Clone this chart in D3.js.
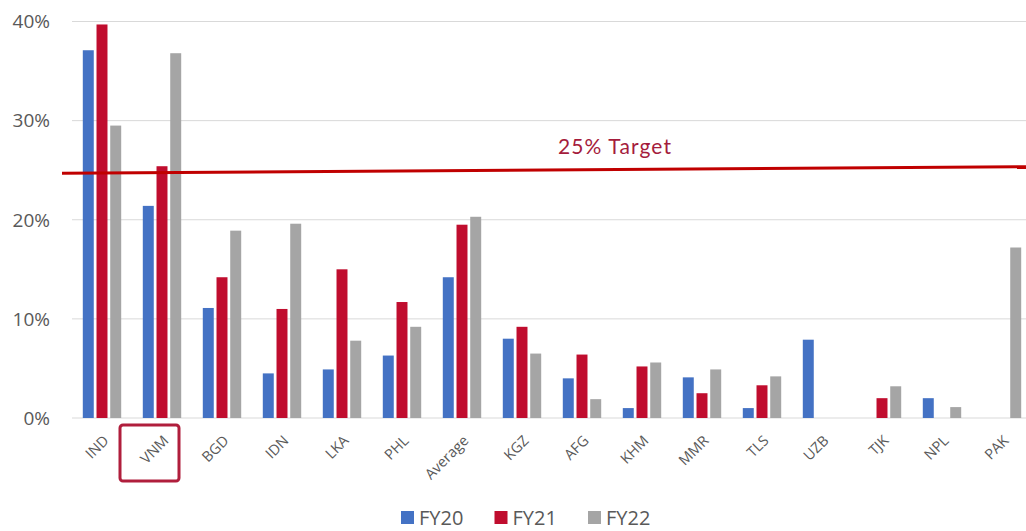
<!DOCTYPE html>
<html>
<head>
<meta charset="utf-8">
<script src="https://cdn.jsdelivr.net/npm/d3@7"></script>
<style>
  body { margin: 0; background: #fff; }
  svg { display: block; font-family: 'Open Sans', sans-serif; }
</style>
</head>
<body>
<svg id="chart"></svg>
<script>
'use strict';

const categories = ['IND', 'VNM', 'BGD', 'IDN', 'LKA', 'PHL', 'Average', 'KGZ', 'AFG', 'KHM', 'MMR', 'TLS', 'UZB', 'TJK', 'NPL', 'PAK'];
const seriesNames = ['FY20', 'FY21', 'FY22'];
const fy20 = [37.1, 21.4, 11.1, 4.5, 4.9, 6.3, 14.2, 8.0, 4.0, 1.0, 4.1, 1.0, 7.9, null, 2.0, null];
const fy21 = [39.7, 25.4, 14.2, 11.0, 15.0, 11.7, 19.5, 9.2, 6.4, 5.2, 2.5, 3.3, null, 2.0, null, null];
const fy22 = [29.5, 36.8, 18.9, 19.6, 7.8, 9.2, 20.3, 6.5, 1.9, 5.6, 4.9, 4.2, null, 3.2, 1.1, 17.2];
const yTicks = [0, 10, 20, 30, 40];
const target = 25;
const targetLabel = '25% Target';
const highlighted = 'VNM';

(function () {
    const width = 1026;
    const height = 531;
    const colors = ['#4472c4', '#c00d2e', '#a5a5a5'];
    const series = [fy20, fy21, fy22];

    const svg = d3.select('#chart')
        .attr('width', width)
        .attr('height', height);

    const x0 = d3.scaleBand()
        .domain(categories)
        .range([72, 1032])
        .paddingInner(0.36)
        .paddingOuter(0.18);
    const x1 = d3.scaleBand()
        .domain(seriesNames)
        .range([0, x0.bandwidth()])
        .paddingInner(0.2);
    const y = d3.scaleLinear()
        .domain([0, 40])
        .range([418, 21.5]);

    // gridlines
    svg.append('g')
        .selectAll('line')
        .data(yTicks)
        .enter().append('line')
        .attr('x1', 72)
        .attr('x2', width)
        .attr('y1', d => y(d))
        .attr('y2', d => y(d))
        .attr('stroke', '#d9d9d9')
        .attr('stroke-width', 1);

    svg.append('g')
        .selectAll('text')
        .data(yTicks)
        .enter().append('text')
        .attr('x', 50)
        .attr('y', d => y(d))
        .attr('dy', '0.36em')
        .attr('text-anchor', 'end')
        .attr('font-size', 19)
        .attr('fill', '#595959')
        .text(d => d + '%');

    // bars
    const groups = svg.append('g')
        .selectAll('g')
        .data(categories)
        .enter().append('g')
        .attr('transform', d => 'translate(' + x0(d) + ',0)');

    groups.selectAll('rect')
        .data((d, i) => seriesNames.map((s, j) => ({ s: s, v: series[j][i], c: colors[j] })))
        .enter().filter(d => d.v != null).append('rect')
        .attr('x', d => x1(d.s))
        .attr('width', x1.bandwidth())
        .attr('y', d => y(d.v))
        .attr('height', d => y(0) - y(d.v))
        .attr('fill', d => d.c);

    // x labels
    svg.append('g')
        .selectAll('text')
        .data(categories)
        .enter().append('text')
        .attr('transform', d => 'translate(' + (x0(d) + x0.bandwidth() / 2 + 4) + ',438) rotate(-45)')
        .attr('text-anchor', 'end')
        .attr('dy', '0.35em')
        .attr('font-size', 14.5)
        .attr('fill', '#595959')
        .text(d => d);

    // highlight box
    svg.append('rect')
        .attr('x', x0(highlighted) + x0.bandwidth() / 2 - 42)
        .attr('y', 425)
        .attr('width', 59)
        .attr('height', 56)
        .attr('rx', 3)
        .attr('fill', 'none')
        .attr('stroke', '#b01e3c')
        .attr('stroke-width', 3);

    // target line (drawn slightly tilted as in the original)
    svg.append('line')
        .attr('x1', 62)
        .attr('x2', width)
        .attr('y1', y(target) + 3)
        .attr('y2', y(target) - 3.5)
        .attr('stroke', '#c00000')
        .attr('stroke-width', 3);

    svg.append('text')
        .attr('x', 558)
        .attr('y', 154)
        .attr('font-family', 'Lato, sans-serif')
        .attr('font-size', 21)
        .attr('letter-spacing', 1.1)
        .attr('fill', '#a51c3c')
        .text(targetLabel);

    // legend
    const legend = svg.append('g')
        .selectAll('g')
        .data(seriesNames)
        .enter().append('g')
        .attr('transform', (d, i) => 'translate(' + (401 + i * 93.5) + ',511)');

    legend.append('rect')
        .attr('width', 13)
        .attr('height', 13)
        .attr('fill', (d, i) => colors[i]);

    legend.append('text')
        .attr('x', 18)
        .attr('y', 14)
        .attr('font-size', 20)
        .attr('fill', '#595959')
        .text(d => d);
})();
</script>
</body>
</html>
